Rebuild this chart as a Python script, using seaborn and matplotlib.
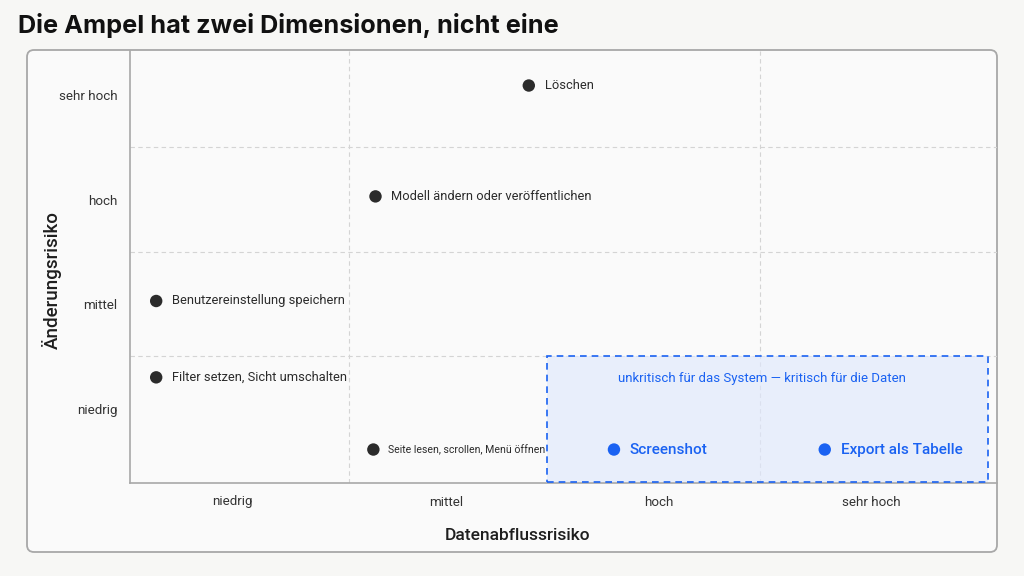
import numpy as np
import pandas as pd
import seaborn as sns
import matplotlib.pyplot as plt
import matplotlib.patches as mpatches
import matplotlib.transforms as mtransforms

# Achsen-Stufen (beide Achsen gleich)
stufen = ['niedrig', 'mittel', 'hoch', 'sehr hoch']

# Aktionen mit Position im Risikofeld
aktionen = ['Löschen', 'Modell ändern oder veröffentlichen', 'Benutzereinstellung speichern',
            'Filter setzen, Sicht umschalten', 'Seite lesen, scrollen, Menü öffnen',
            'Screenshot', 'Export als Tabelle']
datenabfluss = [1.39, 0.67, -0.36, -0.36, 0.66, 1.79, 2.78]
aenderung = [3.09, 2.03, 1.03, 0.30, -0.39, -0.39, -0.39]
gruppe = ['normal', 'normal', 'normal', 'normal', 'normal', 'kritisch', 'kritisch']

hinweis = 'unkritisch für das System — kritisch für die Daten'

df = pd.DataFrame({'aktion': aktionen, 'x': datenabfluss, 'y': aenderung, 'gruppe': gruppe})

sns.set_theme(style='white')
plt.rcParams['font.family'] = ['Roboto', 'DejaVu Sans']

BLAU = '#1a62f2'
DUNKEL = '#2b2b2b'
BG = '#f7f7f5'

fig = plt.figure(figsize=(10.24, 5.76), dpi=100, facecolor=BG)

# Karte hinter dem Diagramm
panel = mpatches.FancyBboxPatch((27, 24), 970, 502, boxstyle='round,pad=0,rounding_size=7',
                                transform=mtransforms.IdentityTransform(),
                                facecolor='#fafafa', edgecolor='#a8a8a8', lw=1.3, zorder=-10)
fig.patches.append(panel)

ax = fig.add_axes([130/1024, 93/576, 867/1024, 432/576])
ax.set_facecolor('none')

# Rasterlinien
for v in [0.545, 2.475]:
    ax.axvline(v, color='#d4d4d4', lw=0.8, ls=(0, (4, 3)), zorder=1)
for h in [0.5, 1.5, 2.5]:
    ax.axhline(h, color='#d4d4d4', lw=0.8, ls=(0, (4, 3)), zorder=1)

# hervorgehobener Bereich
box = mpatches.Rectangle((1.475, -0.70), 2.072, 1.206, facecolor='#dfe8fd', alpha=0.65,
                         edgecolor='none', zorder=2)
ax.add_patch(box)
box_rand = mpatches.Rectangle((1.475, -0.70), 2.072, 1.206, facecolor='none',
                              edgecolor=BLAU, lw=1.2, ls=(0, (4, 3)), zorder=3)
ax.add_patch(box_rand)

sns.scatterplot(data=df, x='x', y='y', hue='gruppe', palette={'normal': DUNKEL, 'kritisch': BLAU},
                s=80, edgecolor='none', legend=False, ax=ax, zorder=4)

for _, r in df.iterrows():
    if r['gruppe'] == 'kritisch':
        ax.text(r['x'] + 0.075, r['y'], r['aktion'], va='center', ha='left', fontsize=11,
                color=BLAU, fontweight='medium', zorder=5)
    elif r['aktion'].startswith('Seite'):
        ax.text(r['x'] + 0.07, r['y'], r['aktion'], va='center', ha='left', fontsize=7.6,
                color=DUNKEL, zorder=5)
    else:
        ax.text(r['x'] + 0.075, r['y'], r['aktion'], va='center', ha='left', fontsize=9.3,
                color=DUNKEL, zorder=5)

ax.text(2.486, 0.29, hinweis, ha='center', va='center', fontsize=9.5, color=BLAU, zorder=5)

ax.set_xlim(-0.483, 3.589)
ax.set_ylim(-0.71, 3.42)
ax.set_xticks(range(4))
ax.set_xticklabels(stufen)
ax.set_yticks(range(4))
ax.set_yticklabels(stufen)
ax.tick_params(axis='both', length=0, labelsize=9.6, labelcolor='#333333')
ax.tick_params(axis='x', pad=9)
ax.tick_params(axis='y', pad=9)

for s in ['top', 'right']:
    ax.spines[s].set_visible(False)
for s in ['left', 'bottom']:
    ax.spines[s].set_color('#a8a8a8')
    ax.spines[s].set_linewidth(1.2)

ax.set_xlabel('Datenabflussrisiko', fontsize=12.5, color='#1e1e1e', fontweight='medium')
ax.set_ylabel('Änderungsrisiko', fontsize=13.5, color='#1e1e1e', fontweight='medium')
ax.xaxis.set_label_coords(0.4475, -0.105)
ax.yaxis.set_label_coords(-0.078, 0.47)

fig.text(18/1024, 1 - 25/576, 'Die Ampel hat zwei Dimensionen, nicht eine', fontsize=18.2,
         fontweight='bold', color='#111111', va='center', ha='left', family=['Inter', 'DejaVu Sans'])

fig.savefig('out.png', dpi=100, facecolor=BG)
